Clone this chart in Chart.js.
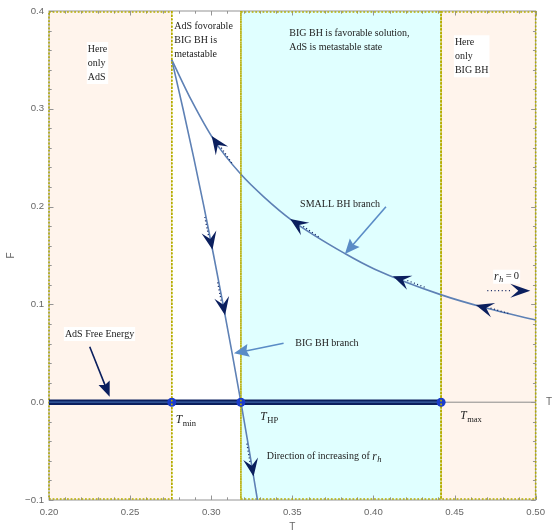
<!DOCTYPE html>
<html>
<head>
<meta charset="utf-8">
<script src="https://cdn.jsdelivr.net/npm/chart.js@4.4.0/dist/chart.umd.min.js"></script>
<style>
body { margin: 0; background: #fff; }
</style>
</head>
<body>
<canvas id="freeEnergyChart" width="552" height="532"></canvas>
<script>
// special temperatures
const Tmin = 0.2757, THP = 0.3183, Tmax = 0.4417;

// BIG BH branch
const bigT = [0.2757, 0.2826, 0.2892, 0.2955, 0.3015, 0.3073, 0.3129, 0.3183, 0.3235, 0.3285];
const bigF = [0.350, 0.300, 0.250, 0.200, 0.150, 0.100, 0.050, 0.000, -0.050, -0.100];

// SMALL BH branch
const smallT = [0.2757, 0.2880, 0.3017, 0.3183, 0.3324, 0.3497, 0.3824, 0.4008, 0.4414, 0.4700, 0.5000];
const smallF = [0.350, 0.308, 0.268, 0.233, 0.210, 0.186, 0.152, 0.136, 0.110, 0.096, 0.084];

// AdS free energy line
const adsT = [0.20, Tmax];
const adsF = [0, 0];

// ticks
const xTicks = [0.20, 0.25, 0.30, 0.35, 0.40, 0.45, 0.50];
const yTicks = [-0.1, 0.0, 0.1, 0.2, 0.3, 0.4];

// where the direction arrows sit on the branches
const smallArrowT = [0.3003, 0.3487, 0.4120, 0.4631];
const bigArrowF = [0.156, 0.089, -0.076];

const curveColor = '#5e81b5';
const navy = '#0b1f5e';
const olive = '#b5ad00';
const peach = '#fff4ec';
const cyan = '#e0ffff';
const serif = 'Liberation Serif';

function toPts(xs, ys) { return xs.map((x, i) => ({ x: x, y: ys[i] })); }

// position on a branch, small branch by T, big branch by F
function onCurve(chart, xs, ys, v, byY) {
	const sx = chart.scales.x, sy = chart.scales.y;
	const key = byY ? ys : xs;
	for (let i = 0; i < key.length - 1; i++) {
		const a = key[i], b = key[i + 1];
		if ((v - a) * (v - b) <= 0) {
			const t = (v - a) / (b - a);
			return { x: sx.getPixelForValue(xs[i] + t * (xs[i + 1] - xs[i])),
					 y: sy.getPixelForValue(ys[i] + t * (ys[i + 1] - ys[i])) };
		}
	}
	return null;
}

function head(ctx, x, y, ang, L, W, notch, color) {
	ctx.save();
	ctx.translate(x, y);
	ctx.rotate(ang);
	ctx.beginPath();
	ctx.moveTo(0, 0);
	ctx.lineTo(-L, W);
	ctx.lineTo(-notch * L, 0);
	ctx.lineTo(-L, -W);
	ctx.closePath();
	ctx.fillStyle = color;
	ctx.fill();
	ctx.restore();
}

function lineArrow(ctx, x1, y1, x2, y2, color, L, W) {
	const ang = Math.atan2(y2 - y1, x2 - x1);
	ctx.save();
	ctx.strokeStyle = color;
	ctx.lineWidth = 1.6;
	ctx.beginPath();
	ctx.moveTo(x1, y1);
	ctx.lineTo(x2 - Math.cos(ang) * L * 0.8, y2 - Math.sin(ang) * L * 0.8);
	ctx.stroke();
	ctx.restore();
	head(ctx, x2, y2, ang, L, W, 0.85, color);
}

// arrow on a branch with the dotted tail behind it
function curveArrow(ctx, p, q) {
	const ang = Math.atan2(p.y - q.y, p.x - q.x);
	const c = Math.cos(ang), s = Math.sin(ang);
	const L = 18;
	ctx.save();
	ctx.strokeStyle = navy;
	ctx.lineWidth = 1.3;
	ctx.setLineDash([1, 2.5]);
	ctx.beginPath();
	ctx.moveTo(p.x - c * (L - 3) - s * 1.2, p.y - s * (L - 3) + c * 1.2);
	ctx.lineTo(p.x - c * (L + 18) - s * 1.2, p.y - s * (L + 18) + c * 1.2);
	ctx.stroke();
	ctx.restore();
	head(ctx, p.x, p.y, ang, L, 7.5, 0.6, navy);
}

function subText(ctx, x, y, main, sub, italicSub) {
	ctx.font = 'italic 11.5px ' + serif;
	ctx.fillText(main, x, y);
	const w = ctx.measureText(main).width;
	ctx.font = (italicSub ? 'italic ' : '') + '8.5px ' + serif;
	ctx.fillText(sub, x + w + 0.5, y + 3.5);
	return w + 0.5 + ctx.measureText(sub).width;
}

const notes = [
	{ lines: ['Here', 'only', 'AdS'], T: 0.2239, F: 0.3611, box: true },
	{ lines: ['AdS fovorable', 'BIG BH is', 'metastable'], T: 0.2772, F: 0.3847 },
	{ lines: ['BIG BH is favorable solution,', 'AdS is metastable state'], T: 0.3481, F: 0.3772 },
	{ lines: ['Here', 'only', 'BIG BH'], T: 0.4502, F: 0.3680, box: true },
	{ lines: ['SMALL BH branch'], T: 0.3548, F: 0.2024 },
	{ lines: ['BIG BH branch'], T: 0.3518, F: 0.0602 },
	{ lines: ['AdS Free Energy'], T: 0.2098, F: 0.0697, box: true }
];

function dotted(ctx) {
	ctx.strokeStyle = olive;
	ctx.lineWidth = 1.6;
	ctx.setLineDash([1.8, 1.8]);
}

const framePlugin = {
	id: 'frame',
	beforeDatasetsDraw(chart) {
		const ctx = chart.ctx, a = chart.chartArea;
		const sx = chart.scales.x, sy = chart.scales.y;
		const X = v => sx.getPixelForValue(v);
		const y0 = sy.getPixelForValue(0);
		const regions = [[0.20, Tmin, peach], [THP, Tmax, cyan], [Tmax, 0.50, peach]];
		ctx.save();
		regions.forEach(r => {
			ctx.fillStyle = r[2];
			ctx.fillRect(X(r[0]), a.top, X(r[1]) - X(r[0]), a.bottom - a.top);
		});
		// axis line at F = 0
		ctx.strokeStyle = '#8a8a8a';
		ctx.lineWidth = 1;
		ctx.beginPath();
		ctx.moveTo(a.left, y0);
		ctx.lineTo(a.right, y0);
		ctx.stroke();
		// frame
		ctx.strokeStyle = '#949494';
		ctx.strokeRect(a.left, a.top, a.right - a.left, a.bottom - a.top);
		// frame ticks, pointing inward
		ctx.beginPath();
		for (let i = 0; i <= 30; i++) {
			const x = Math.round(X(0.2 + i * 0.01)) + 0.5;
			const len = i % 5 === 0 ? 4.5 : 2.7;
			ctx.moveTo(x, a.bottom); ctx.lineTo(x, a.bottom - len);
			ctx.moveTo(x, a.top); ctx.lineTo(x, a.top + len);
		}
		for (let i = 0; i <= 25; i++) {
			const y = Math.round(sy.getPixelForValue(-0.1 + i * 0.02)) + 0.5;
			const len = i % 5 === 0 ? 4.5 : 2.7;
			ctx.moveTo(a.left, y); ctx.lineTo(a.left + len, y);
			ctx.moveTo(a.right, y); ctx.lineTo(a.right - len, y);
		}
		ctx.stroke();
		// dotted borders of the shaded regions
		dotted(ctx);
		regions.forEach(r => {
			ctx.strokeRect(X(r[0]), a.top + 1, X(r[1]) - X(r[0]), a.bottom - a.top - 2);
		});
		ctx.restore();
	},
	afterDatasetsDraw(chart) {
		const ctx = chart.ctx, a = chart.chartArea;
		const sx = chart.scales.x, sy = chart.scales.y;
		const X = v => sx.getPixelForValue(v);
		const Y = v => sy.getPixelForValue(v);
		ctx.save();
		dotted(ctx);
		[Tmin, THP, Tmax].forEach(t => {
			ctx.beginPath();
			ctx.moveTo(X(t), a.top);
			ctx.lineTo(X(t), a.bottom);
			ctx.stroke();
		});
		ctx.setLineDash([]);

		// direction arrows
		smallArrowT.forEach(t => {
			curveArrow(ctx, onCurve(chart, smallT, smallF, t, false), onCurve(chart, smallT, smallF, t + 0.004, false));
		});
		bigArrowF.forEach(f => {
			curveArrow(ctx, onCurve(chart, bigT, bigF, f, true), onCurve(chart, bigT, bigF, f + 0.02, true));
		});

		// pointer arrows to the labels
		lineArrow(ctx, X(0.4077), Y(0.1999), X(0.3824), Y(0.1515), '#5a8cc6', 15, 6.5);
		lineArrow(ctx, X(0.3446), Y(0.0602), X(0.3140), Y(0.0500), '#5a8cc6', 15, 6.5);
		lineArrow(ctx, X(0.2251), Y(0.0567), X(0.2374), Y(0.0056), navy, 15, 6);

		// r_h = 0 arrow
		ctx.fillStyle = '#fff';
		ctx.fillRect(X(0.4738), Y(0.1283) - 7, 27, 14);
		ctx.strokeStyle = navy;
		ctx.lineWidth = 1.3;
		ctx.setLineDash([1, 2.6]);
		ctx.beginPath();
		ctx.moveTo(X(0.4702), Y(0.114));
		ctx.lineTo(X(0.4845), Y(0.114));
		ctx.stroke();
		ctx.setLineDash([]);
		head(ctx, X(0.4967), Y(0.114), 0, 20, 7, 0.6, navy);

		// notes
		ctx.textBaseline = 'middle';
		ctx.textAlign = 'left';
		ctx.font = '10px ' + serif;
		notes.forEach(n => {
			const x = X(n.T), y = Y(n.F);
			if (n.box) {
				const w = Math.max(...n.lines.map(l => ctx.measureText(l).width));
				ctx.fillStyle = '#fff';
				ctx.fillRect(x - 1, y - 7, w + 2, (n.lines.length - 1) * 14 + 14);
			}
			ctx.fillStyle = '#222';
			n.lines.forEach((l, i) => ctx.fillText(l, x, y + i * 14));
		});

		ctx.fillStyle = '#222';
		subText(ctx, X(0.2782), Y(-0.0182), 'T', 'min', false);
		subText(ctx, X(0.3303), Y(-0.0154), 'T', 'HP', false);
		subText(ctx, X(0.4535), Y(-0.0141), 'T', 'max', false);

		ctx.font = '10px ' + serif;
		const dx = X(0.3342), dy = Y(-0.0557);
		ctx.fillText('Direction of increasing of ', dx, dy);
		const dw = ctx.measureText('Direction of increasing of ').width;
		subText(ctx, dx + dw, dy, 'r', 'h', true);

		const rx = X(0.4743), ry = Y(0.1283);
		const rw = subText(ctx, rx, ry, 'r', 'h', true);
		ctx.font = '10.5px ' + serif;
		ctx.fillText(' =\u20090', rx + rw, ry);

		// axis titles
		ctx.fillStyle = '#666';
		ctx.font = '10px Liberation Sans';
		ctx.textAlign = 'center';
		ctx.fillText('T', (a.left + a.right) / 2, 527);
		ctx.textAlign = 'left';
		ctx.fillText('T', 546, Y(0));
		ctx.save();
		ctx.translate(11, (a.top + a.bottom) / 2);
		ctx.rotate(-Math.PI / 2);
		ctx.textAlign = 'center';
		ctx.fillText('F', 0, 0);
		ctx.restore();
		ctx.restore();
	}
};

const ctx = document.getElementById('freeEnergyChart').getContext('2d');
const freeEnergyChart = new Chart(ctx, {
	type: 'scatter',
	data: {
		datasets: [
			{ data: [{ x: Tmin, y: 0 }, { x: THP, y: 0 }, { x: Tmax, y: 0 }], pointRadius: 4.5,
			  backgroundColor: '#1b3ccc', borderWidth: 0, showLine: false, order: 1 },
			{ data: toPts(bigT, bigF), showLine: true, borderColor: curveColor, borderWidth: 1.6,
			  pointRadius: 0, cubicInterpolationMode: 'monotone', order: 2 },
			{ data: toPts(smallT, smallF), showLine: true, borderColor: curveColor, borderWidth: 1.6,
			  pointRadius: 0, cubicInterpolationMode: 'monotone', order: 3 },
			{ data: toPts(adsT, adsF), showLine: true, borderColor: '#3f66a8', borderWidth: 1.2,
			  pointRadius: 0, order: 4 },
			{ data: toPts(adsT, adsF), showLine: true, borderColor: navy, borderWidth: 5.5,
			  pointRadius: 0, borderCapStyle: 'butt', order: 5 }
		]
	},
	options: {
		responsive: false,
		animation: false,
		layout: { padding: { top: 11, right: 13, left: 0, bottom: 0 } },
		plugins: { legend: { display: false }, tooltip: { enabled: false } },
		scales: {
			x: {
				type: 'linear', min: 0.2, max: 0.5,
				grid: { display: false, drawTicks: false },
				border: { display: false },
				afterBuildTicks: s => { s.ticks = xTicks.map(v => ({ value: v })); },
				ticks: { callback: v => v.toFixed(2), color: '#666', padding: 7, maxRotation: 0,
						 font: { size: 9.6, family: 'Liberation Sans' } },
				afterFit: s => { s.height = 32; }
			},
			y: {
				type: 'linear', min: -0.1, max: 0.4,
				grid: { display: false, drawTicks: false },
				border: { display: false },
				afterBuildTicks: s => { s.ticks = yTicks.map(v => ({ value: v })); },
				ticks: { callback: v => (v < 0 ? '\u2212' + (-v).toFixed(1) : v.toFixed(1)), color: '#666', padding: 5,
						 font: { size: 9.6, family: 'Liberation Sans' } },
				afterFit: s => { s.width = 49; }
			}
		}
	},
	plugins: [framePlugin]
});
</script>
</body>
</html>
